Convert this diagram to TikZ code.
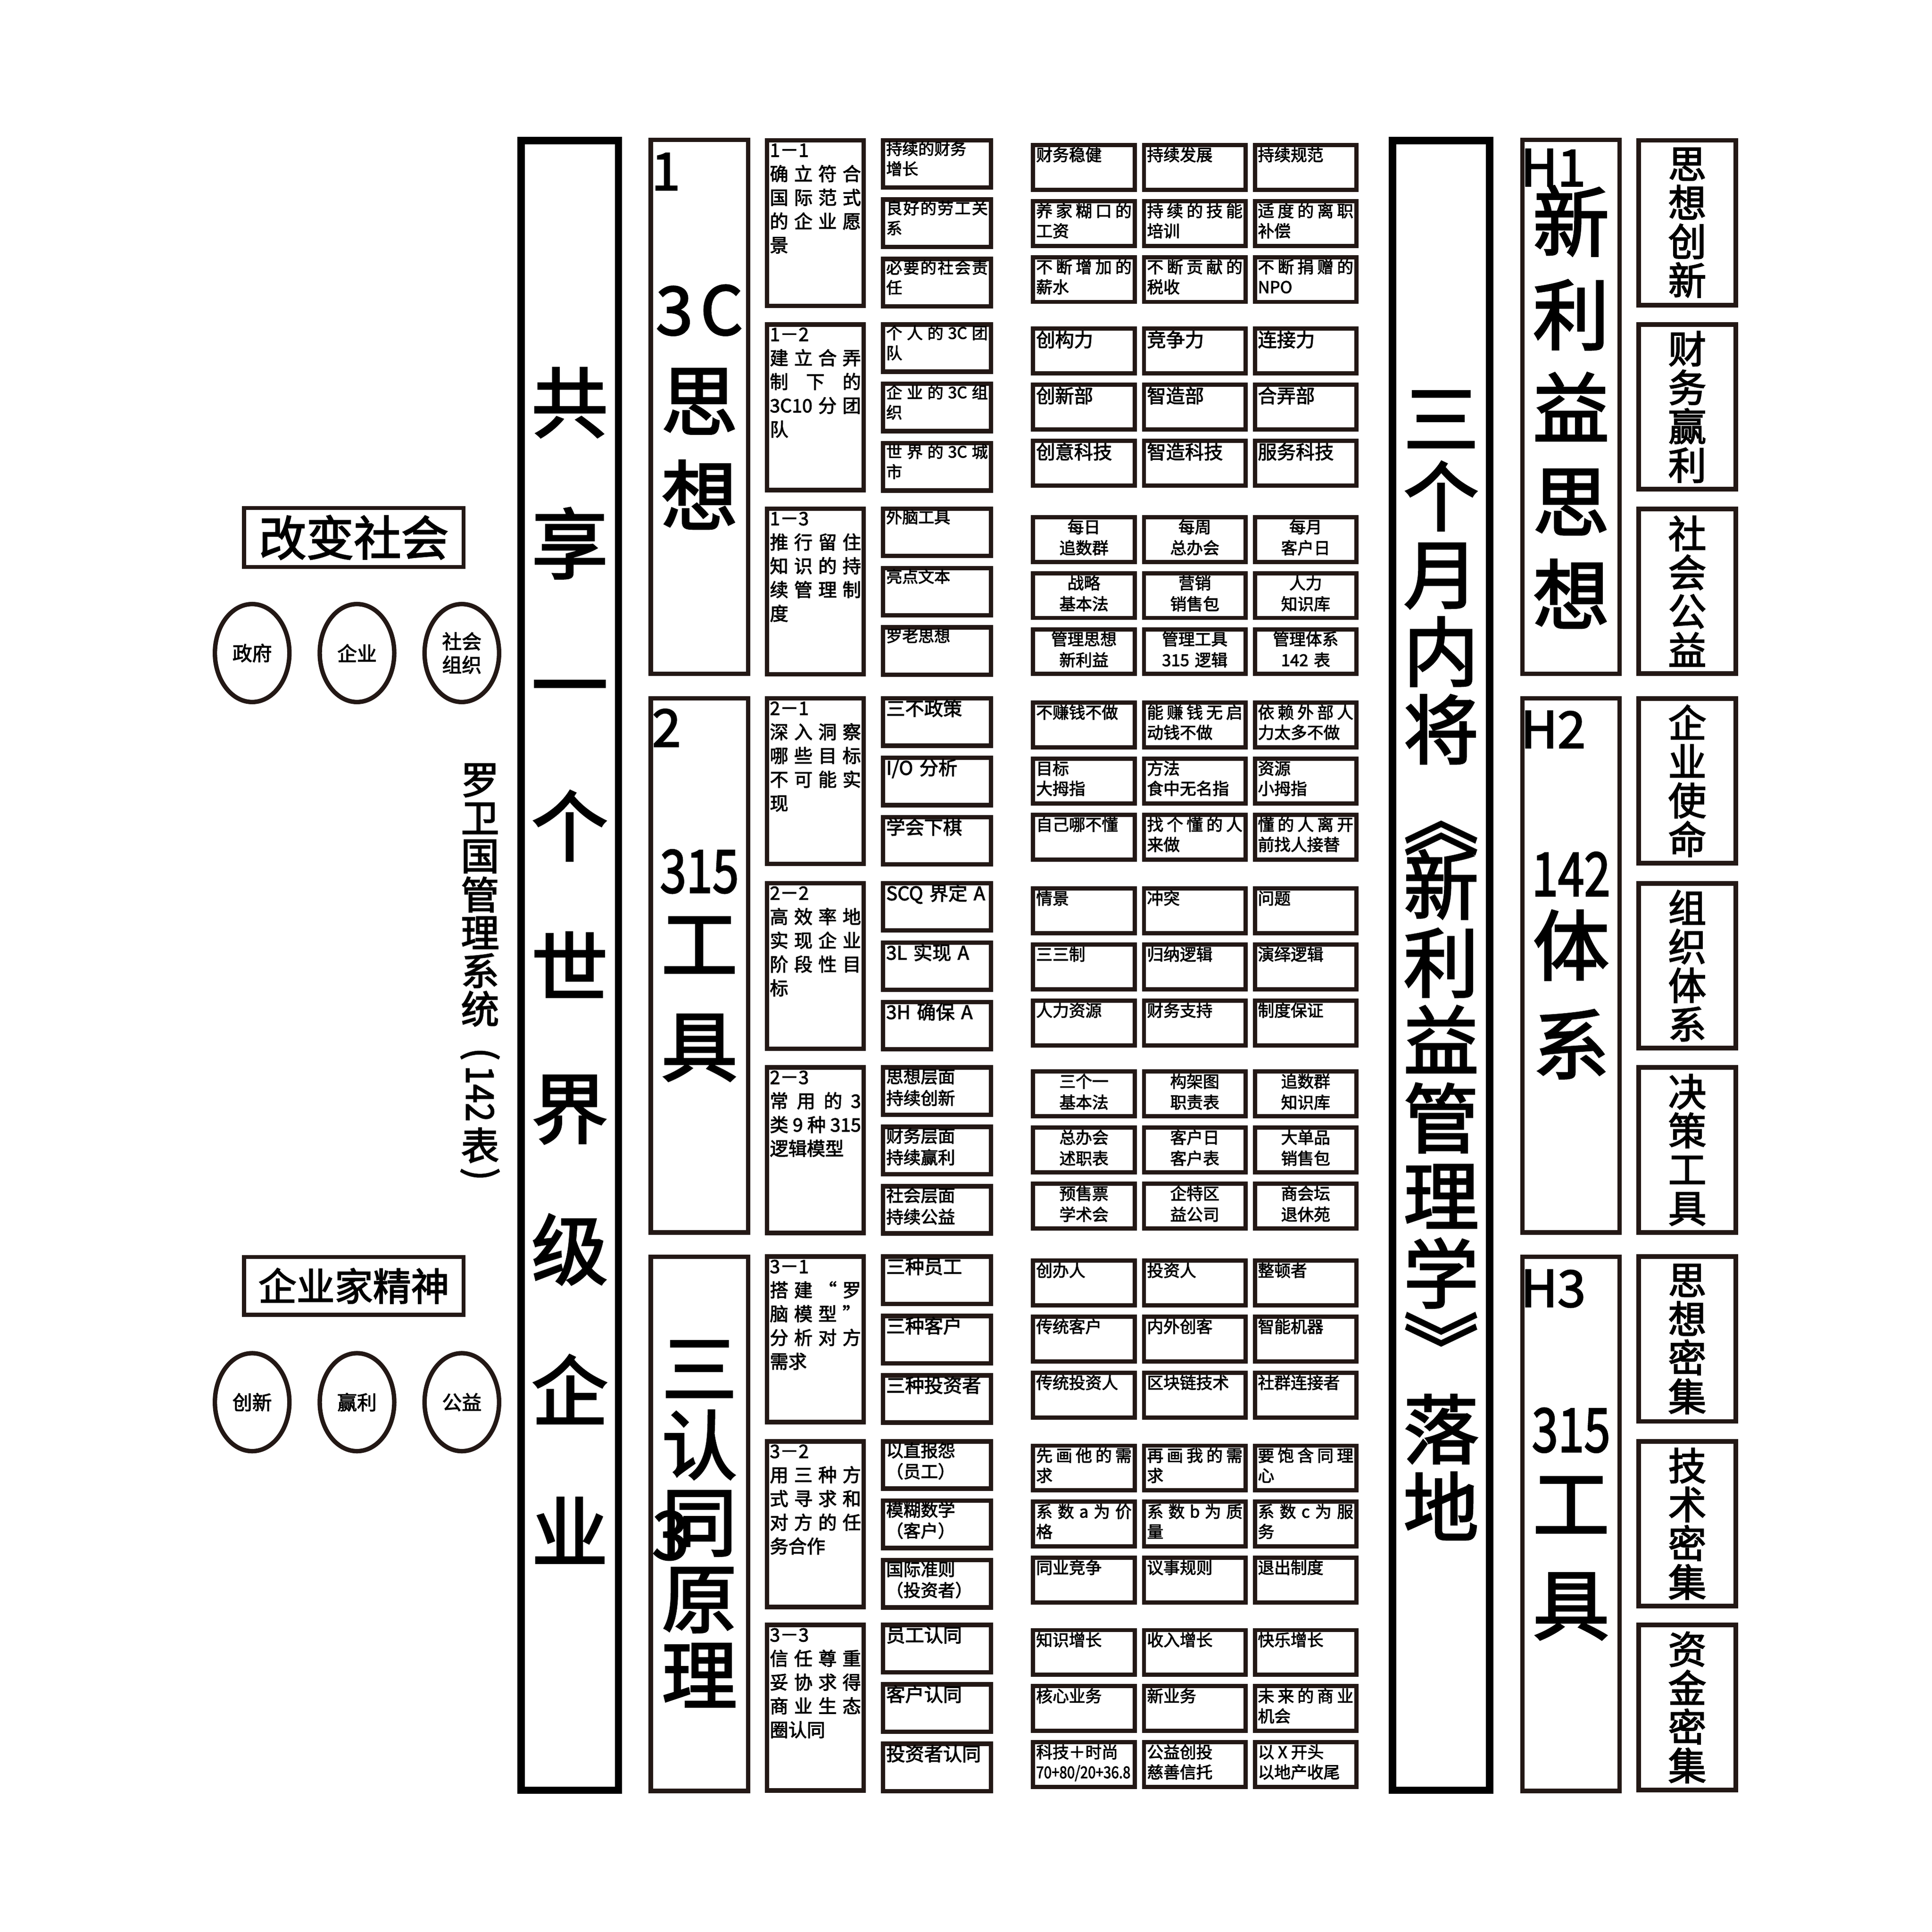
\documentclass[tikz,border=0pt]{standalone}
\usepackage{fontspec}
\setmainfont{Noto Sans CJK SC}[FakeBold=2.5]
\usepackage{graphicx}
\usetikzlibrary{positioning, shapes.geometric}

\definecolor{edge}{HTML}{231815}
\newlength{\upx}
\setlength{\upx}{0.2mm}
\newcommand{\pxfont}[2]{\fontsize{#1\upx}{#2\upx}\selectfont}
% spread the characters of one line over the full width
\def\spreadend{\spreadend}
\def\spreadendm{\spreadend}
\newcommand{\spread}[1]{\spreadA#1\spreadend}
\def\spreadA#1{#1\spreadB}
\def\spreadB#1{\def\spreadtmp{#1}\ifx\spreadtmp\spreadendm\else\hfill#1\expandafter\spreadB\fi}

\setlength{\parindent}{0pt}

\begin{document}
\begin{tikzpicture}[
    x=0.2mm, y=-0.2mm,
    pillar/.style={draw=black, line width=6*\upx, inner sep=0, align=center,
      minimum width=79*\upx, minimum height=1339*\upx},
    stage/.style={draw=edge, line width=3.5*\upx, inner sep=0, align=center,
      minimum width=79*\upx, minimum height=433.5*\upx, font=\pxfont{62}{75.7}},
    side/.style={draw=edge, line width=3.8*\upx, inner sep=0, align=center,
      minimum width=78.8*\upx, minimum height=133.7*\upx, font=\pxfont{31}{31.5}},
    goal/.style={draw=edge, line width=3.6*\upx, outer sep=0, anchor=north west,
      text width=74*\upx, inner xsep=2.25*\upx, inner ysep=0.5*\upx,
      text height=13*\upx, text depth=120.4*\upx, font=\pxfont{15}{19.3}},
    tool/.style={draw=edge, line width=3.6*\upx, outer sep=0, anchor=north west,
      text width=82.5*\upx, inner xsep=2.6*\upx, inner ysep=0.3*\upx},
    item/.style={draw=edge, line width=3.4*\upx, outer sep=0, anchor=north west,
      text width=77.5*\upx, inner xsep=2.45*\upx, inner ysep=1.2*\upx},
    tag/.style={inner sep=0, anchor=base west},
    banner/.style={draw=edge, line width=3.2*\upx, inner sep=0, minimum width=178.2*\upx},
    ell/.style={ellipse, draw=edge, line width=3.6*\upx, inner sep=0, align=center,
      minimum width=60.5*\upx, minimum height=79.5*\upx, font=\pxfont{16}{19}},
    vert/.style={inner sep=0, font=\pxfont{31}{31}}
  ]
  \path[use as bounding box, fill=white] (0,0) rectangle (1568,1568);

  % left: society and spirit
  \node[banner, minimum height=47.8*\upx, font=\pxfont{38.5}{40}] (change) at (287.2,436.2) {改变社会};
  \node[ell] (gov) at (204.7,530) {政府};
  \node[ell, right=4.2mm of gov] (firm) {企业};
  \node[ell, right=4.2mm of firm] (ngo) {社会\\组织};
  \node[banner, minimum height=47*\upx, font=\pxfont{31}{33}] (spirit) at (287.2,1043.6) {企业家精神};
  \node[ell] (inno) at (204.7,1138) {创新};
  \node[ell, right=4.2mm of inno] (gain) {赢利};
  \node[ell, right=4.2mm of gain] (gift) {公益};

  \foreach \ch/\yy [count=\i] in {罗/633.3,卫/664.2,国/695.1,管/726,理/757,系/787.8,统/818.7,表/929.5}
    \node[vert] (luo\i) at (389.7,\yy) {\ch};
  \node[vert, rotate=-90] (lp) at (389.7,855.5) {(};
  \node[vert, rotate=-90] (lnum) at (389.7,887.6) {\scalebox{0.88}[1]{142}};
  \node[vert, rotate=-90] (rp) at (389.7,953) {)};

  % the two pillars
  \node[pillar, font=\pxfont{62}{114.6}] (share) at (462.5,783.5) {共\\享\\一\\个\\世\\界\\级\\企\\业};
  \node[pillar, font=\pxfont{61}{63.1}] (plan) at (1169.9,783.5)
    {三\\个\\月\\内\\将\\\mbox{}\\新\\利\\益\\管\\理\\学\\\mbox{}\\落\\地};
  \node[inner sep=0, rotate=-90, font=\pxfont{61}{61}] (lq) at (1169.9,665) {《};
  \node[inner sep=0, rotate=-90, font=\pxfont{61}{61}] (rq) at (1169.9,1094) {》};

  % three stages
  \node[stage, font=\pxfont{62}{77}] (s1) at (567.75,330.25)
    {{\pxfont{54}{77}\makebox[70.6\upx][s]{3\hfill C}}\\思\\想};
  \node[stage, font=\pxfont{62}{65}] (s2) at (567.75,783.5)
    {\scalebox{0.8}[1]{\pxfont{48}{65}315}\\工\\[18\upx]具};
  \node[stage, font=\pxfont{61}{62.2}] (s3) at (567.75,1236.75) {三\\认\\同\\原\\理};
  \node[tag, font=\pxfont{42}{42}] (n1) at (528.5,154.3) {1};
  \node[tag, font=\pxfont{42}{42}] (n2) at (529,606) {2};
  \node[tag, font=\pxfont{54}{54}] (n3) at (529,1265.5) {3};

  % H boxes
  \node[stage] (h1) at (1275.4,330.25) {新\\利\\益\\思\\想};
  \node[stage, font=\pxfont{62}{63.5}] (h2) at (1275.4,783.5)
    {\scalebox{0.78}[1]{\pxfont{49}{63.5}142}\\体\\[17\upx]系};
  \node[stage, font=\pxfont{62}{65.5}] (h3) at (1275.4,1236.75)
    {\scalebox{0.78}[1]{\pxfont{49}{65.5}315}\\工\\[16.5\upx]具};
  \node[tag, font=\pxfont{41}{41}] (hh1) at (1234.2,151) {H1};
  \node[tag, font=\pxfont{41}{41}] (hh2) at (1234.2,607) {H2};
  \node[tag, font=\pxfont{41}{41}] (hh3) at (1234.2,1060.6) {H3};

  % right column
  \foreach \g/\top/\txt in {1/112/{思\\想\\创\\新}, 2/261.5/{财\\务\\赢\\利}, 3/411/{社\\会\\公\\益},
      4/565/{企\\业\\使\\命}, 5/715/{组\\织\\体\\系}, 6/864.5/{决\\策\\工\\具},
      7/1018/{思\\想\\密\\集}, 8/1168/{技\\术\\密\\集}, 9/1317/{资\\金\\密\\集}}
    \node[side] (j\g) at (1369.7,\top+68.75) {\txt};

  % goals
  \foreach \g/\top/\txt in {
      1/112/{1－1\\\spread{确立符合}\\\spread{国际范式}\\\spread{的企业愿}\\景},
      2/261.5/{1－2\\\spread{建立合弄}\\\spread{制下的}\\\spread{{3C10}分团}\\队},
      3/411/{1－3\\\spread{推行留住}\\\spread{知识的持}\\\spread{续管理制}\\度},
      4/565/{2－1\\\spread{深入洞察}\\\spread{哪些目标}\\\spread{不可能实}\\现},
      5/715/{2－2\\\spread{高效率地}\\\spread{实现企业}\\\spread{阶段性目}\\标},
      6/864.5/{2－3\\\spread{常用的3}\\\spread{类9种{315}}\\逻辑模型},
      7/1018/{3－1\\\spread{搭建“罗}\\\spread{脑模型”}\\\spread{分析对方}\\需求},
      8/1168/{3－2\\\spread{用三种方}\\\spread{式寻求和}\\\spread{对方的任}\\务合作},
      9/1317/{3－3\\\spread{信任尊重}\\\spread{妥协求得}\\\spread{商业生态}\\圈认同}}
    \node[goal] (c\g) at (622.7,\top+1.8) {\txt};

  % tools
  \foreach \g/\top/\sz/\bs/\items in {
      1/112/13/16.3/{{持续的财务\\增长},{\spread{良好的劳工关}\\系},{\spread{必要的社会责}\\任}},
      2/261.5/13/16.3/{{\spread{个人的{3C}团}\\队},{\spread{企业的{3C}组}\\织},{\spread{世界的{3C}城}\\市}},
      3/411/13/16.3/{外脑工具,亮点文本,罗老思想},
      4/565/15.4/18/{三不政策,I/O 分析,学会下棋},
      5/715/15.4/18/{SCQ 界定 A,3L 实现 A,3H 确保 A},
      6/864.5/14/17.5/{{思想层面\\持续创新},{财务层面\\持续赢利},{社会层面\\持续公益}},
      7/1018/15.4/18/{三种员工,三种客户,三种投资者},
      8/1168/14/17/{{以直报怨\\（员工）},{模糊数学\\（客户）},{国际准则\\（投资者）}},
      9/1317/15.4/18/{员工认同,客户认同,投资者认同}}
  {
    \foreach \txt [count=\i from 0] in \items
      \node[tool, font=\pxfont{\sz}{\bs}, text height=0.88*\sz*\upx,
        text depth=(37.8-0.88*\sz)*\upx] (d\g-\i) at (716.8,\top+1.8+48.2*\i) {\txt};
  }

  % items
  \foreach \g/\top/\sz/\bs/\al/\items in {
      1/116/13.3/16.3/justify/{财务稳健,持续发展,持续规范,{\spread{养家糊口的}\\工资},{\spread{持续的技能}\\培训},{\spread{适度的离职}\\补偿},{\spread{不断增加的}\\薪水},{\spread{不断贡献的}\\税收},{\spread{不断捐赠的}\\NPO}},
      2/265/15.4/18/justify/{创构力,竞争力,连接力,创新部,智造部,合弄部,创意科技,智造科技,服务科技},
      3/418/13.3/17/center/{{每日\\追数群},{每周\\总办会},{每月\\客户日},{战略\\基本法},{营销\\销售包},{人力\\知识库},{管理思想\\新利益},{管理工具\\315 逻辑},{管理体系\\142 表}},
      4/568.5/13.3/16.3/justify/{不赚钱不做,{\spread{能赚钱无启}\\动钱不做},{\spread{依赖外部人}\\力太多不做},{目标\\大拇指},{方法\\食中无名指},{资源\\小拇指},自己哪不懂,{\spread{找个懂的人}\\来做},{\spread{懂的人离开}\\前找人接替}},
      5/719.4/13.3/16.3/justify/{情景,冲突,问题,三三制,归纳逻辑,演绎逻辑,人力资源,财务支持,制度保证},
      6/868/13.3/17/center/{{三个一\\基本法},{构架图\\职责表},{追数群\\知识库},{总办会\\述职表},{客户日\\客户表},{大单品\\销售包},{预售票\\学术会},{企特区\\益公司},{商会坛\\退休苑}},
      7/1021.5/13.3/16.3/justify/{创办人,投资人,整顿者,传统客户,内外创客,智能机器,传统投资人,区块链技术,社群连接者},
      8/1171.6/13.3/16.3/justify/{{\spread{先画他的需}\\求},{\spread{再画我的需}\\求},{\spread{要饱含同理}\\心},{\spread{系数a为价}\\格},{\spread{系数b为质}\\量},{\spread{系数c为服}\\务},同业竞争,议事规则,退出制度},
      9/1321.3/13.3/16.3/justify/{知识增长,收入增长,快乐增长,核心业务,新业务,{\spread{未来的商业}\\机会},{科技＋时尚\\\scalebox{0.85}[1]{70+80/20+36.8}},{公益创投\\慈善信托},{以 X 开头\\以地产收尾}}}
  {
    \foreach \txt [count=\i from 0] in \items {
      \pgfmathtruncatemacro{\rr}{div(\i,3)}
      \pgfmathtruncatemacro{\cc}{mod(\i,3)}
      \node[item, align=\al, font=\pxfont{\sz}{\bs}, text height=0.88*\sz*\upx,
        text depth=(33.9-0.88*\sz)*\upx] (m\g-\i) at (838.7+90*\cc,\top+1.7+45.5*\rr) {\txt};
    }
  }
\end{tikzpicture}
\end{document}
